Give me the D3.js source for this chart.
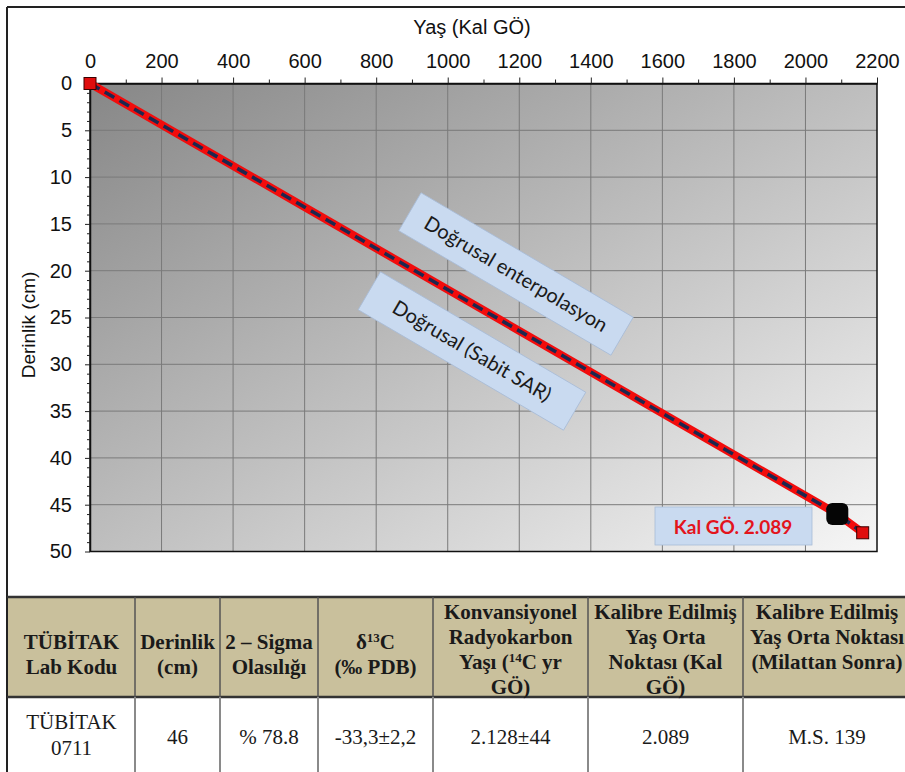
<!DOCTYPE html>
<html>
<head>
<meta charset="utf-8">
<script src="https://cdn.jsdelivr.net/npm/d3@7"></script>
<style>
  html, body { margin: 0; padding: 0; background: #fff; }
  svg { display: block; }
</style>
</head>
<body>
<svg id="chart" width="905" height="772"></svg>
<script>
// Age-depth model: age (cal BP) against depth (cm)
const modelAges   = [0, 2089, 2160];
const modelDepths = [0, 46, 48];
const endAges     = [0, 2160];      // red square end points
const endDepths   = [0, 48];
const datedAge    = [2089];         // calibrated radiocarbon date
const datedDepth  = [46];

const xTicks      = d3.range(0, 2201, 200);
const xMinorTicks = d3.range(100, 2200, 200);
const yTicks      = d3.range(0, 51, 5);
const yMinorTicks = d3.range(0, 51, 1).filter(v => v % 5 !== 0);

const calloutLabels = ["Doğrusal enterpolasyon", "Doğrusal (Sabit SAR)"];
const dateLabel = "Kal GÖ. 2.089";

// Radiocarbon result table
const tableHeaders = [
  [["TÜBİTAK"], ["Lab Kodu"]],
  [["Derinlik"], ["(cm)"]],
  [["2 – Sigma"], ["Olasılığı"]],
  [["δ", {sup: "13"}, "C"], ["(‰ PDB)"]],
  [["Konvansiyonel"], ["Radyokarbon"], ["Yaşı (", {sup: "14"}, "C yr"], ["GÖ)"]],
  [["Kalibre Edilmiş"], ["Yaş Orta"], ["Noktası (Kal"], ["GÖ)"]],
  [["Kalibre Edilmiş"], ["Yaş Orta Noktası"], ["(Milattan Sonra)"]]
];
const tableRow = [["TÜBİTAK", "0711"], ["46"], ["% 78.8"], ["-33,3±2,2"], ["2.128±44"], ["2.089"], ["M.S. 139"]];
const columnEdges = [8, 135, 220, 318, 433, 588, 743, 910];

const svg = d3.select("#chart");

const x = d3.scaleLinear().domain([0, 2200]).range([90, 877]);
const y = d3.scaleLinear().domain([0, 50]).range([83.5, 551.5]);

// plot background gradient
const defs = svg.append("defs");
const grad = defs.append("linearGradient").attr("id", "plotBg")
  .attr("x1", 0).attr("y1", 0).attr("x2", 1).attr("y2", 1);
grad.append("stop").attr("offset", "0%").attr("stop-color", "#878787");
grad.append("stop").attr("offset", "100%").attr("stop-color", "#f6f6f6");

// outer frame
svg.append("line").attr("x1", 7).attr("x2", 905).attr("y1", 7).attr("y2", 7)
  .attr("stroke", "#222").attr("stroke-width", 2);
svg.append("line").attr("x1", 7).attr("x2", 7).attr("y1", 7).attr("y2", 772)
  .attr("stroke", "#222").attr("stroke-width", 2);

svg.append("rect")
  .attr("x", x(0)).attr("y", y(0))
  .attr("width", x(2200) - x(0)).attr("height", y(50) - y(0))
  .attr("fill", "url(#plotBg)");

// grid
const grid = svg.append("g").attr("stroke", "#7a7a7a").attr("stroke-width", 1);
grid.selectAll(".gx").data(xTicks.slice(1, -1)).join("line")
  .attr("x1", d => x(d)).attr("x2", d => x(d))
  .attr("y1", y(0)).attr("y2", y(50));
grid.selectAll(".gy").data(yTicks.slice(1, -1)).join("line")
  .attr("x1", x(0)).attr("x2", x(2200))
  .attr("y1", d => y(d)).attr("y2", d => y(d));

svg.append("rect")
  .attr("x", x(0)).attr("y", y(0))
  .attr("width", x(2200) - x(0)).attr("height", y(50) - y(0))
  .attr("fill", "none").attr("stroke", "#111").attr("stroke-width", 1.5);

// axes
const axisFont = "'Liberation Sans', Arial, sans-serif";
const xAxis = svg.append("g").attr("transform", `translate(0,${y(0)})`)
  .call(d3.axisTop(x).tickValues(xTicks).tickFormat(d3.format("d"))
    .tickSize(6).tickPadding(10).tickSizeOuter(0));
svg.append("g").attr("transform", `translate(0,${y(0)})`)
  .call(d3.axisTop(x).tickValues(xMinorTicks).tickSize(4).tickFormat("").tickSizeOuter(0))
  .call(g => g.select(".domain").remove());
const yAxis = svg.append("g").attr("transform", `translate(${x(0)},0)`)
  .call(d3.axisLeft(y).tickValues(yTicks).tickFormat(d3.format("d"))
    .tickSize(5).tickPadding(13).tickSizeOuter(0));
svg.append("g").attr("transform", `translate(${x(0)},0)`)
  .call(d3.axisLeft(y).tickValues(yMinorTicks).tickSize(3).tickFormat("").tickSizeOuter(0))
  .call(g => g.select(".domain").remove());
svg.selectAll(".tick line").attr("stroke", "#222");
svg.selectAll(".domain").attr("stroke", "#111").attr("stroke-width", 1.5);
[xAxis, yAxis].forEach(a => a.selectAll("text")
  .attr("font-family", axisFont).attr("font-size", 20).attr("fill", "#111"));

svg.append("text").attr("x", 472).attr("y", 34).attr("text-anchor", "middle")
  .attr("font-family", axisFont).attr("font-size", 20).attr("fill", "#111")
  .text("Yaş (Kal GÖ)");
svg.append("text").attr("transform", "translate(35,325) rotate(-90)")
  .attr("text-anchor", "middle")
  .attr("font-family", axisFont).attr("font-size", 19).attr("fill", "#111")
  .text("Derinlik (cm)");

// callout boxes
const calloutFont = "Lato, 'Open Sans', sans-serif";
const callouts = [
  {label: calloutLabels[0], cx: 516, cy: 274, w: 246, h: 44, angle: 30.4},
  {label: calloutLabels[1], cx: 472, cy: 351, w: 238, h: 44, angle: 30.4}
];
const cg = svg.selectAll(".callout").data(callouts).join("g")
  .attr("transform", d => `translate(${d.cx},${d.cy}) rotate(${d.angle})`);
cg.append("rect")
  .attr("x", d => -d.w / 2).attr("y", d => -d.h / 2)
  .attr("width", d => d.w).attr("height", d => d.h)
  .attr("fill", "#c9daf0").attr("stroke", "#a9bcd6").attr("stroke-width", 0.8);
cg.append("text").attr("text-anchor", "middle").attr("dy", "0.35em")
  .attr("font-family", calloutFont).attr("font-size", 20).attr("fill", "#1a1a1a")
  .text(d => d.label);

// model lines
const line = d3.line().x((d, i) => x(modelAges[i])).y((d, i) => y(modelDepths[i]));
svg.append("path").datum(modelAges).attr("d", line)
  .attr("fill", "none").attr("stroke", "#f20c0c").attr("stroke-width", 8);
svg.append("path").datum(modelAges).attr("d", line)
  .attr("fill", "none").attr("stroke", "#1c2850").attr("stroke-width", 3.5)
  .attr("stroke-dasharray", "11,6");

// dated sample marker
svg.selectAll(".dated").data(datedAge).join("rect")
  .attr("x", d => x(d) - 11).attr("y", (d, i) => y(datedDepth[i]) - 11)
  .attr("width", 22).attr("height", 22).attr("rx", 6)
  .attr("fill", "#050505");

// end markers
svg.selectAll(".endpt").data(endAges).join("rect")
  .attr("x", d => x(d) - 6).attr("y", (d, i) => y(endDepths[i]) - 6)
  .attr("width", 12).attr("height", 12)
  .attr("fill", "#e00d0d").attr("stroke", "#3a0000").attr("stroke-width", 1);

// date label box
svg.append("rect").attr("x", 655).attr("y", 507).attr("width", 157).attr("height", 38)
  .attr("fill", "#c9daf0").attr("stroke", "#a9bcd6").attr("stroke-width", 0.8);
svg.append("text").attr("x", 733).attr("y", 527).attr("dy", "0.35em")
  .attr("text-anchor", "middle")
  .attr("font-family", calloutFont).attr("font-size", 19).attr("font-weight", "bold")
  .attr("fill", "#e3141c").text(dateLabel);

// table
const serif = "'Liberation Serif', 'Times New Roman', serif";
const headTop = 597, headBottom = 697, rowBottom = 772;
svg.append("rect").attr("x", 8).attr("y", headTop).attr("width", 897)
  .attr("height", headBottom - headTop).attr("fill", "#c9c09c");
const tl = svg.append("g");
tl.append("line").attr("x1", 7).attr("x2", 905).attr("y1", headTop).attr("y2", headTop)
  .attr("stroke", "#333").attr("stroke-width", 2.5);
tl.append("line").attr("x1", 7).attr("x2", 905).attr("y1", headBottom).attr("y2", headBottom)
  .attr("stroke", "#333").attr("stroke-width", 2.5);
tl.selectAll(".vh").data(columnEdges.slice(1, -1)).join("line")
  .attr("x1", d => d).attr("x2", d => d).attr("y1", headTop).attr("y2", headBottom)
  .attr("stroke", "#555").attr("stroke-width", 1.5);
tl.selectAll(".vr").data(columnEdges.slice(1, -1)).join("line")
  .attr("x1", d => d).attr("x2", d => d).attr("y1", headBottom).attr("y2", rowBottom)
  .attr("stroke", "#8a8a8a").attr("stroke-width", 2);

const colCenter = i => i === 6 ? 827 : (columnEdges[i] + columnEdges[i + 1]) / 2;

tableHeaders.forEach((lines, i) => {
  const lh = 25;
  const top = lines.length === 2 ? 649 : 619;
  lines.forEach((parts, j) => {
    const t = svg.append("text").attr("x", colCenter(i)).attr("y", top + j * lh)
      .attr("text-anchor", "middle").attr("font-family", serif)
      .attr("font-size", 21).attr("font-weight", "bold").attr("fill", "#1a1a1a");
    let raised = false;
    parts.forEach(p => {
      if (typeof p === "string") {
        t.append("tspan").attr("dy", raised ? 7 : null).text(p);
        raised = false;
      } else {
        t.append("tspan").attr("dy", -7).attr("font-size", 13).text(p.sup);
        raised = true;
      }
    });
  });
});

tableRow.forEach((lines, i) => {
  const top = lines.length === 2 ? 729 : 744;
  lines.forEach((s, j) => {
    svg.append("text").attr("x", colCenter(i)).attr("y", top + j * 26)
      .attr("text-anchor", "middle").attr("font-family", serif)
      .attr("font-size", 21).attr("fill", "#1a1a1a").text(s);
  });
});
</script>
</body>
</html>
